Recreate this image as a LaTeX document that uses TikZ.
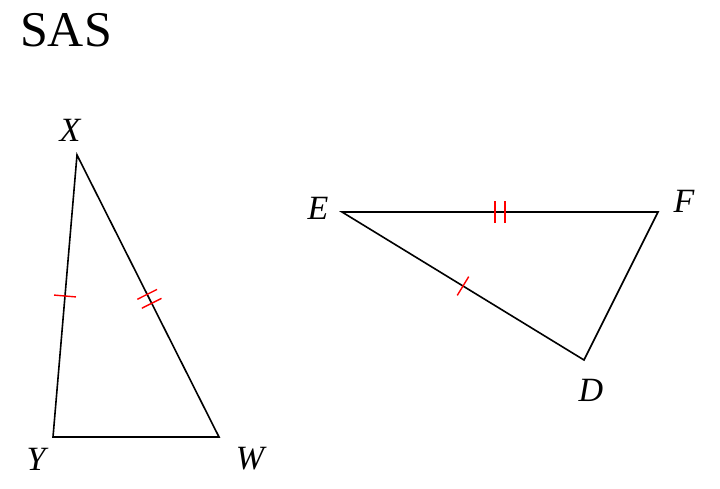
\documentclass[tikz,border=0pt]{standalone}
\usepackage{fontspec}
\setmainfont{Liberation Serif}
\tikzset{
	side/.style={line width=1.6pt},
	vlabel/.style={font=\fontsize{34}{34}\selectfont\itshape},
	onetick/.pic={\draw[red,line width=1.4pt] (0,-11) -- (0,11);},
	twotick/.pic={\draw[red,line width=1.4pt] (-5,-11) -- (-5,11) (5,-11) -- (5,11);}
}
\begin{document}
\begin{tikzpicture}[x=1pt,y=-1pt]
	\useasboundingbox (0,0) rectangle (720,488);
	\node[font=\fontsize{50}{50}\selectfont] (title) at (66,30) {SAS};
	% triangle XYW
	\coordinate (X) at (77,155);
	\coordinate (Y) at (53,437);
	\coordinate (W) at (219,437);
	\draw[side] (X) -- (Y) -- (W) -- cycle;
	\path (X) -- (Y) pic[pos=.5,sloped]{onetick};
	\path (X) -- (W) pic[pos=.51,sloped]{twotick};
	\node[vlabel] (lx) at (70,130) {X};
	\node[vlabel] (ly) at (36,459) {Y};
	\node[vlabel] (lw) at (250,459) {W};
	% triangle EFD
	\coordinate (E) at (342,212);
	\coordinate (F) at (658,212);
	\coordinate (D) at (584,360);
	\draw[side] (E) -- (F) -- (D) -- cycle;
	\path (E) -- (F) pic[pos=.5,sloped]{twotick};
	\path (E) -- (D) pic[pos=.5,sloped]{onetick};
	\node[vlabel] (le) at (318,208) {E};
	\node[vlabel] (lf) at (684,201) {F};
	\node[vlabel] (ld) at (591,390) {D};
\end{tikzpicture}
\end{document}
